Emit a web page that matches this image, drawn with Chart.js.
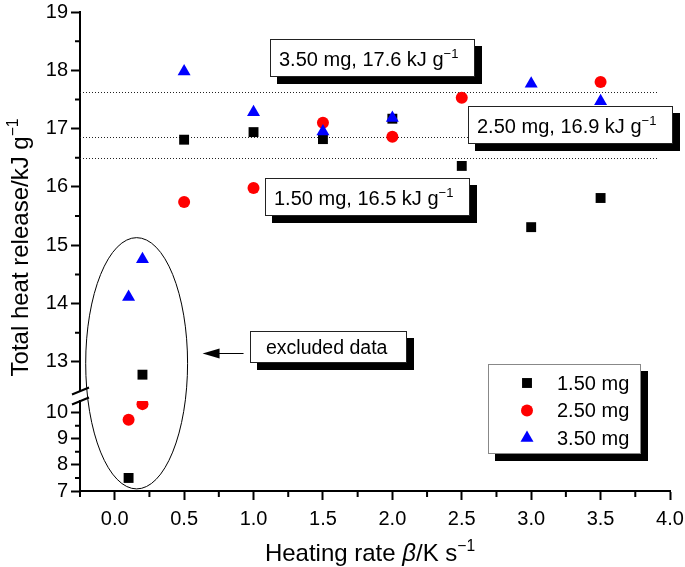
<!DOCTYPE html>
<html><head><meta charset="utf-8">
<script src="https://cdn.jsdelivr.net/npm/chart.js@4/dist/chart.umd.min.js"></script>
<style>html,body{margin:0;padding:0;background:#fff}</style>
</head><body>
<canvas id="c" width="685" height="567"></canvas>
<script>
// ---------------- data ----------------
const seriesLabels = ['1.50 mg', '2.50 mg', '3.50 mg'];
const seriesColors = ['#000000', '#ff0000', '#0000ff'];
const seriesStyles = ['rect', 'circle', 'triangle'];

// heating rate (K/s) and total heat release (kJ/g), upper (main) part of the axis
const rate150 = [0.2, 0.5, 1.0, 1.5, 2.0, 2.5, 3.0, 3.5];
const thr150  = [12.78, 16.81, 16.94, 16.82, 17.17, 16.36, 15.31, 15.81];
const rate250 = [0.5, 1.0, 1.5, 2.0, 2.5, 3.5];
const thr250  = [15.74, 15.98, 17.10, 16.86, 17.53, 17.80];
const rate350 = [0.1, 0.2, 0.5, 1.0, 1.5, 2.0, 3.0, 3.5];
const thr350  = [14.11, 14.76, 17.98, 17.28, 16.95, 17.18, 17.77, 17.47];
// points below the axis break
const rate150Low = [0.1];
const thr150Low  = [7.5];
const rate250Low = [0.1, 0.2];
const thr250Low  = [9.73, 10.33];

// mean lines
const meanValues = [17.62, 16.85, 16.5];
const meanTexts = ['3.50 mg, 17.6 kJ g', '2.50 mg, 16.9 kJ g', '1.50 mg, 16.5 kJ g'];

// ticks
const xTicks = [0, 0.5, 1.0, 1.5, 2.0, 2.5, 3.0, 3.5, 4.0];
const xMinorTicks = [-0.25, 0.25, 0.75, 1.25, 1.75, 2.25, 2.75, 3.25, 3.75];
const yUpperTicks = [13, 14, 15, 16, 17, 18, 19];
const yUpperMinor = [13.5, 14.5, 15.5, 16.5, 17.5, 18.5];
const yLowerTicks = [7, 8, 9, 10];
const yLowerMinor = [7.5, 8.5, 9.5];

// ---------------- layout / style ----------------
const FONT = '"Liberation Sans", Arial, Helvetica, sans-serif';
const SHADOW = 7;
// annotation boxes anchored in data coordinates (left, top)
const noteBoxes = [
  {x: 1.122, y: 18.537, parts: [{t: meanTexts[0]}, {t: '\u22121', sup: true}]},
  {x: 2.547, y: 17.39,  parts: [{t: meanTexts[1]}, {t: '\u22121', sup: true}]},
  {x: 1.086, y: 16.154, parts: [{t: meanTexts[2]}, {t: '\u22121', sup: true}]}
];
const excludedBox = {x: 0.971, y: 13.53, text: 'excluded data'};
const arrowSpec = {tipX: 0.633, tailX: 0.928, y: 13.15};
const ellipseSpec = {left: -0.209, right: 0.525, top: 15.13, bottom: 7.08};
const legendSpec = {x: 2.69, y: 12.97, w: 153, h: 90};

function mk(xs, ys) { return xs.map((v, i) => ({x: v, y: ys[i]})); }

function richWidth(ctx, parts, size) {
  let w = 0;
  for (const p of parts) {
    const fs = p.sup ? size * 0.65 : size;
    ctx.font = (p.it ? 'italic ' : '') + fs + 'px ' + FONT;
    w += ctx.measureText(p.t).width;
  }
  return w;
}
function drawRich(ctx, parts, x, y, size, align) {
  const w = richWidth(ctx, parts, size);
  let cx = align === 'center' ? x - w / 2 : (align === 'right' ? x - w : x);
  ctx.textAlign = 'left';
  ctx.textBaseline = 'alphabetic';
  for (const p of parts) {
    const fs = p.sup ? size * 0.65 : size;
    ctx.font = (p.it ? 'italic ' : '') + fs + 'px ' + FONT;
    ctx.fillText(p.t, cx, p.sup ? y - size * 0.4 : y);
    cx += ctx.measureText(p.t).width;
  }
  return w;
}
function shadowBox(ctx, x, y, w, h, border) {
  ctx.fillStyle = '#000';
  ctx.fillRect(x + SHADOW, y + SHADOW, w, h);
  ctx.fillStyle = '#fff';
  ctx.fillRect(x, y, w, h);
  ctx.strokeStyle = border || '#222';
  ctx.lineWidth = 1;
  ctx.strokeRect(x + 0.5, y + 0.5, w - 1, h - 1);
}

const behindPlugin = {
  id: 'behind',
  beforeDatasetsDraw(chart) {
    const ctx = chart.ctx, xs = chart.scales.x, ys = chart.scales.y;
    ctx.save();
    ctx.strokeStyle = '#222';
    ctx.lineWidth = 1;
    ctx.setLineDash([1, 2]);
    for (const v of meanValues) {
      const py = Math.round(ys.getPixelForValue(v)) + 0.5;
      ctx.beginPath();
      ctx.moveTo(xs.getPixelForValue(-0.25), py);
      ctx.lineTo(xs.getPixelForValue(3.91), py);
      ctx.stroke();
    }
    ctx.restore();
  }
};

const overlayPlugin = {
  id: 'overlay',
  afterDraw(chart) {
    const ctx = chart.ctx, xs = chart.scales.x, ys = chart.scales.y, y2 = chart.scales.y2;
    ctx.save();
    // minor ticks
    ctx.strokeStyle = '#000';
    ctx.lineWidth = 2;
    ctx.beginPath();
    for (const v of xMinorTicks) {
      const px = xs.getPixelForValue(v);
      ctx.moveTo(px, xs.top); ctx.lineTo(px, xs.top + 6);
    }
    for (const v of yUpperMinor) {
      const py = ys.getPixelForValue(v);
      ctx.moveTo(ys.right, py); ctx.lineTo(ys.right - 5, py);
    }
    for (const v of yLowerMinor) {
      const py = y2.getPixelForValue(v);
      ctx.moveTo(y2.right, py); ctx.lineTo(y2.right - 5, py);
    }
    ctx.stroke();
    // axis break marks
    ctx.lineWidth = 2;
    ctx.beginPath();
    const ax = ys.right;
    for (const by of [ys.bottom, y2.top]) {
      ctx.moveTo(ax - 8, by + 3.5); ctx.lineTo(ax + 9, by - 3.5);
    }
    ctx.stroke();

    // ellipse
    const el = ellipseSpec;
    const l = xs.getPixelForValue(el.left), r = xs.getPixelForValue(el.right);
    const t = ys.getPixelForValue(el.top), b = y2.getPixelForValue(el.bottom);
    ctx.lineWidth = 1;
    ctx.strokeStyle = '#000';
    ctx.beginPath();
    ctx.ellipse((l + r) / 2, (t + b) / 2, Math.abs(r - l) / 2, Math.abs(b - t) / 2, 0, 0, Math.PI * 2);
    ctx.stroke();

    // arrow
    const tip = xs.getPixelForValue(arrowSpec.tipX), tail = xs.getPixelForValue(arrowSpec.tailX);
    const ay = Math.round(ys.getPixelForValue(arrowSpec.y)) + 0.5;
    ctx.beginPath();
    ctx.moveTo(tail, ay); ctx.lineTo(tip + 10, ay); ctx.stroke();
    ctx.fillStyle = '#000';
    ctx.beginPath();
    ctx.moveTo(tip, ay); ctx.lineTo(tip + 17, ay - 5); ctx.lineTo(tip + 17, ay + 5); ctx.closePath();
    ctx.fill();

    // mean-value boxes
    for (const nb of noteBoxes) {
      const bx = Math.round(xs.getPixelForValue(nb.x)), by = Math.round(ys.getPixelForValue(nb.y));
      const w = richWidth(ctx, nb.parts, 20);
      shadowBox(ctx, bx, by, Math.round(w + 26), 38);
      ctx.fillStyle = '#000';
      drawRich(ctx, nb.parts, bx + 9, by + 27, 20, 'left');
    }
    // excluded-data box
    {
      const bx = Math.round(xs.getPixelForValue(excludedBox.x)), by = Math.round(ys.getPixelForValue(excludedBox.y));
      ctx.font = '19.5px ' + FONT;
      const w = ctx.measureText(excludedBox.text).width;
      shadowBox(ctx, bx, by, Math.round(w + 36), 32);
      ctx.fillStyle = '#000';
      ctx.textAlign = 'left'; ctx.textBaseline = 'alphabetic';
      ctx.fillText(excludedBox.text, bx + 16, by + 23);
    }
    // legend
    {
      const bx = Math.round(xs.getPixelForValue(legendSpec.x)), by = Math.round(ys.getPixelForValue(legendSpec.y));
      shadowBox(ctx, bx, by, legendSpec.w, legendSpec.h, '#888');
      const items = chart.data.datasets.filter(d => d.inLegend);
      items.forEach((d, i) => {
        const cy = by + 19 + i * 27.5;
        ctx.fillStyle = d.backgroundColor;
        ctx.strokeStyle = d.borderColor;
        ctx.lineWidth = 0;
        Chart.helpers.drawPoint(ctx, {pointStyle: d.pointStyle, radius: d.pointRadius, rotation: 0, borderWidth: 0}, bx + 39, cy);
        ctx.fillStyle = '#000';
        ctx.font = '20px ' + FONT;
        ctx.textAlign = 'left'; ctx.textBaseline = 'middle';
        ctx.fillText(d.label, bx + 69, cy + 1);
      });
    }

    // axis titles
    ctx.fillStyle = '#000';
    drawRich(ctx, [{t: 'Heating rate '}, {t: '\u03b2', it: true}, {t: '/K s'}, {t: '\u22121', sup: true}],
      (xs.left + xs.right) / 2 - 5, 561, 24, 'center');
    ctx.save();
    ctx.translate(28, (ys.top + y2.bottom) / 2 - 4);
    ctx.rotate(-Math.PI / 2);
    drawRich(ctx, [{t: 'Total heat release/kJ g'}, {t: '\u22121', sup: true}], 0, 0, 24, 'center');
    ctx.restore();
    ctx.restore();
  }
};

function tickSetter(arr) { return function (scale) { scale.ticks = arr.map(v => ({value: v})); }; }
const tickFont = {family: FONT, size: 20};
const gridOpts = {drawOnChartArea: false, drawTicks: true, tickLength: 9, tickWidth: 2, tickColor: '#000'};
const borderOpts = {display: true, color: '#000', width: 2};
const yFit = s => { s.width = 80; s.paddingTop = 0; s.paddingBottom = 0; };

const dsBase = (i, extra) => Object.assign({
  label: seriesLabels[i],
  backgroundColor: seriesColors[i],
  borderColor: seriesColors[i],
  borderWidth: 0,
  pointStyle: seriesStyles[i],
  pointRadius: [7, 6, 7.5][i],
  pointHoverRadius: [7, 6, 7.5][i],
  order: 3 - i,
  showLine: false
}, extra);

new Chart(document.getElementById('c'), {
  type: 'scatter',
  data: {
    datasets: [
      dsBase(0, {data: mk(rate150, thr150), yAxisID: 'y', inLegend: true}),
      dsBase(1, {data: mk(rate250, thr250), yAxisID: 'y', inLegend: true}),
      dsBase(2, {data: mk(rate350, thr350), yAxisID: 'y', inLegend: true}),
      dsBase(0, {data: mk(rate150Low, thr150Low), yAxisID: 'y2'}),
      dsBase(1, {data: mk(rate250Low, thr250Low), yAxisID: 'y2'})
    ]
  },
  options: {
    responsive: false,
    animation: false,
    devicePixelRatio: 1,
    layout: {padding: {top: 12, right: 15, left: 0, bottom: 0}},
    plugins: {legend: {display: false}, tooltip: {enabled: false}},
    scales: {
      x: {
        type: 'linear', position: 'bottom', min: -0.25, max: 4.0,
        afterBuildTicks: tickSetter(xTicks),
        afterFit(s) { s.height = 76; s.paddingLeft = 0; s.paddingRight = 0; },
        ticks: {font: tickFont, color: '#000', padding: 7, callback: v => v.toFixed(1), maxRotation: 0, autoSkip: false},
        grid: gridOpts, border: borderOpts
      },
      y2: {
        type: 'linear', position: 'left', stack: 'v', stackWeight: 90, min: 7, max: 10.45,
        afterBuildTicks: tickSetter(yLowerTicks),
        afterFit: yFit,
        ticks: {font: tickFont, color: '#000', padding: 3, autoSkip: false},
        grid: gridOpts, border: borderOpts
      },
      yGap: {
        type: 'linear', position: 'left', stack: 'v', stackWeight: 10, min: 0, max: 1,
        afterFit: yFit,
        ticks: {display: false}, grid: {display: false}, border: {display: false}
      },
      y: {
        type: 'linear', position: 'left', stack: 'v', stackWeight: 379, min: 12.5, max: 19,
        afterBuildTicks: tickSetter(yUpperTicks),
        afterFit: yFit,
        ticks: {font: tickFont, color: '#000', padding: 3, autoSkip: false},
        grid: gridOpts, border: borderOpts
      }
    }
  },
  plugins: [behindPlugin, overlayPlugin]
});
</script>
</body></html>
